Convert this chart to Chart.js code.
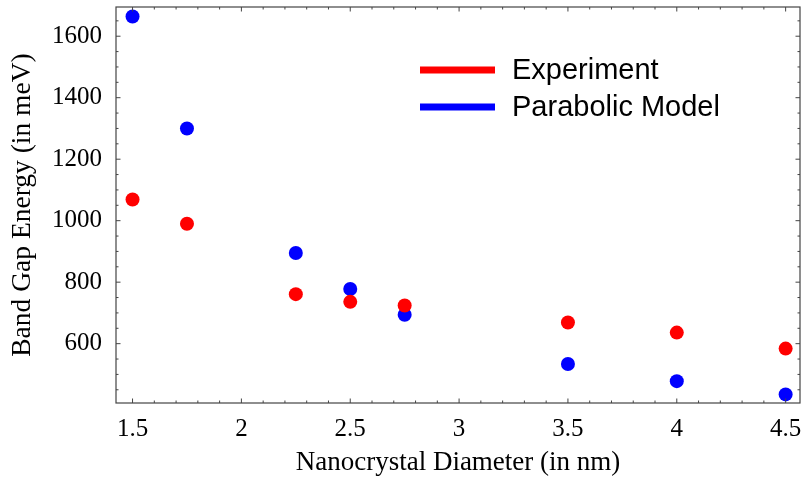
<!DOCTYPE html>
<html><head><meta charset="utf-8">
<script src="https://cdn.jsdelivr.net/npm/chart.js@4"></script>
<style>html,body{margin:0;padding:0;background:#fff;}#wrap{width:807px;height:481px;}</style>
</head><body><div id="wrap"><canvas id="c" width="807" height="481"></canvas></div>
<script>
const diameters = [1.5, 1.75, 2.25, 2.5, 2.75, 3.5, 4.0, 4.5];
const experiment = [1069, 990, 761, 736, 724, 669, 636, 584];
const parabolic = [1664, 1300, 895, 778, 694, 534, 478, 435];
const xTicks = [1.5, 2, 2.5, 3, 3.5, 4, 4.5];
const yTicks = [600, 800, 1000, 1200, 1400, 1600];
const seriesNames = ['Experiment', 'Parabolic Model'];
const xTitle = 'Nanocrystal Diameter (in nm)';
const yTitle = 'Band Gap Energy (in meV)';

const toPts = (vals) => diameters.map((d, i) => ({x: d, y: vals[i]}));
const serif = "'Liberation Serif', 'Times New Roman', serif";
const zeroPad = (s) => { s.paddingTop = 0; s.paddingBottom = 0; s.paddingLeft = 0; s.paddingRight = 0; };

const framePlugin = {
  id: 'frame',
  afterDatasetsDraw(chart) {
    const ctx = chart.ctx, a = chart.chartArea;
    const xs = chart.scales.x, ys = chart.scales.y;
    ctx.save();
    ctx.strokeStyle = '#444';
    ctx.lineWidth = 1.2;
    ctx.strokeRect(a.left, a.top, a.right - a.left, a.bottom - a.top);
    ctx.lineWidth = 1;
    ctx.beginPath();
    for (let v = 1.4; v <= 4.6001; v += 0.1) {
      const vv = Math.round(v * 10) / 10;
      const px = xs.getPixelForValue(vv);
      if (px < a.left + 1 || px > a.right - 1) continue;
      const major = Math.abs(vv * 2 - Math.round(vv * 2)) < 1e-6;
      const L = major ? 4.5 : 2.5;
      ctx.moveTo(px, a.bottom); ctx.lineTo(px, a.bottom - L);
      ctx.moveTo(px, a.top); ctx.lineTo(px, a.top + L);
    }
    for (let v = 450; v <= 1700; v += 50) {
      const py = ys.getPixelForValue(v);
      if (py < a.top + 1 || py > a.bottom - 1) continue;
      const major = v % 200 === 0;
      const L = major ? 4.5 : 2.5;
      ctx.moveTo(a.left, py); ctx.lineTo(a.left + L, py);
      ctx.moveTo(a.right, py); ctx.lineTo(a.right - L, py);
    }
    ctx.stroke();
    // legend
    const colors = chart.data.datasets.map(d => d.backgroundColor);
    const rows = [70, 107];
    ctx.font = "29px 'Liberation Sans', Arial, sans-serif";
    ctx.textBaseline = 'middle';
    seriesNames.forEach((n, i) => {
      ctx.fillStyle = colors[i];
      ctx.fillRect(420, rows[i] - 3.5, 75, 7);
      ctx.fillStyle = '#000';
      ctx.fillText(n, 512, rows[i] + 1);
    });
    ctx.restore();
  }
};

new Chart(document.getElementById('c'), {
  type: 'scatter',
  data: {
    datasets: [
      {label: seriesNames[0], data: toPts(experiment), backgroundColor: '#ff0000', borderWidth: 0, pointRadius: 7, pointHoverRadius: 7},
      {label: seriesNames[1], data: toPts(parabolic), backgroundColor: '#0000ff', borderWidth: 0, pointRadius: 7, pointHoverRadius: 7}
    ]
  },
  options: {
    responsive: false,
    animation: false,
    layout: {padding: {left: 0, top: 4, right: 3, bottom: 0}},
    plugins: {legend: {display: false}, tooltip: {enabled: false}},
    scales: {
      x: {
        type: 'linear', min: 1.424, max: 4.566,
        afterBuildTicks: (s) => { s.ticks = xTicks.map(v => ({value: v})); },
        afterFit: (s) => { s.height = 78; zeroPad(s); },
        grid: {display: false, drawTicks: false},
        border: {display: false},
        ticks: {color: '#000', font: {family: serif, size: 25}, padding: 11, maxRotation: 0,
          callback: (v) => String(v)},
        title: {display: true, text: xTitle, color: '#000', font: {family: serif, size: 27}, padding: {top: 0, bottom: 2}}
      },
      y: {
        type: 'linear', min: 407, max: 1695,
        afterBuildTicks: (s) => { s.ticks = yTicks.map(v => ({value: v})); },
        afterFit: (s) => { s.width = 116; zeroPad(s); },
        grid: {display: false, drawTicks: false},
        border: {display: false},
        ticks: {color: '#000', font: {family: serif, size: 25}, padding: 14,
          callback: (v) => String(v)},
        title: {display: true, text: yTitle, color: '#000', font: {family: serif, size: 27.5}, padding: {top: 6, bottom: 0}}
      }
    }
  },
  plugins: [framePlugin]
});
</script></body></html>
